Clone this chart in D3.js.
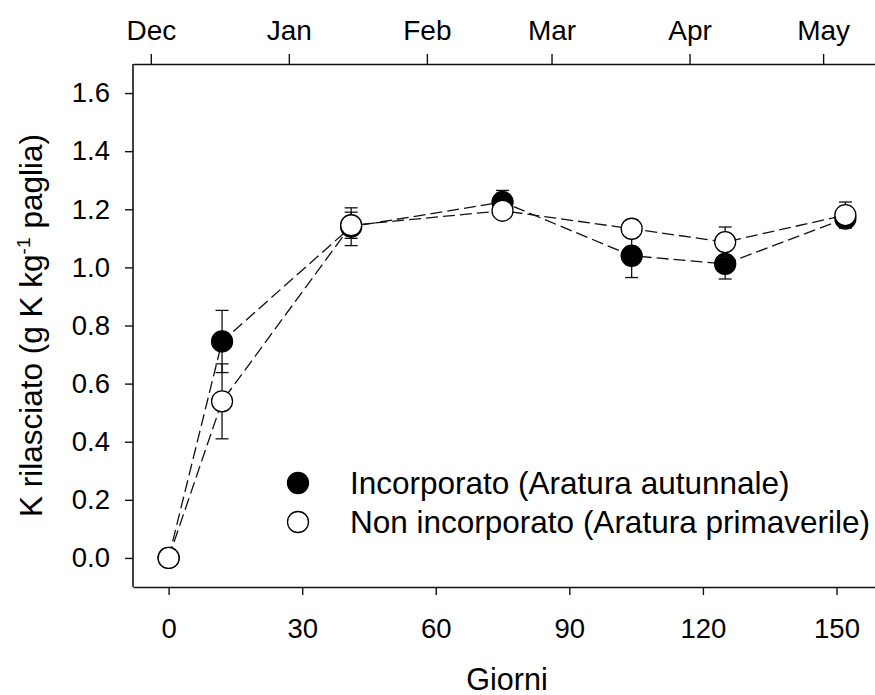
<!DOCTYPE html>
<html>
<head>
<meta charset="utf-8">
<script src="https://cdn.jsdelivr.net/npm/d3@7"></script>
<style>
  html, body { margin: 0; padding: 0; background: #fff; }
  svg { display: block; font-family: "Liberation Sans", Arial, sans-serif; }
</style>
</head>
<body>
<svg id="chart" width="875" height="695"></svg>
<script>
// ---- Data ----
const days = [0, 12, 41, 75, 104, 125, 152];
const incorporato = [0, 0.745, 1.14, 1.225, 1.04, 1.012, 1.168];
const incorporatoErr = [0.005, 0.107, 0.065, 0.04, 0.075, 0.052, 0.02];
const nonIncorporato = [0, 0.539, 1.145, 1.195, 1.133, 1.087, 1.18];
const nonIncorporatoErr = [0.005, 0.129, 0.045, 0.015, 0.03, 0.052, 0.045];

const xTicks = [0, 30, 60, 90, 120, 150];
const yTicks = [0, 0.2, 0.4, 0.6, 0.8, 1.0, 1.2, 1.4, 1.6];
const monthDays = [-4, 27, 58, 86, 117, 147];
const monthLabels = ["Dec", "Jan", "Feb", "Mar", "Apr", "May"];

const seriesNames = ["Incorporato (Aratura autunnale)", "Non incorporato (Aratura primaverile)"];
const xTitle = "Giorni";

// ---- Chart ----
const svg = d3.select("#chart");
const x = d3.scaleLinear().domain([-8, 160]).range([133, 881]);
const y = d3.scaleLinear().domain([-0.1, 1.7]).range([587, 64]);

const series = [
  { name: seriesNames[0], values: incorporato, err: incorporatoErr, fill: "#000" },
  { name: seriesNames[1], values: nonIncorporato, err: nonIncorporatoErr, fill: "#fff" }
];

// Axes
const gB = svg.append("g").attr("transform", "translate(0,587)")
  .call(d3.axisBottom(x).tickValues(xTicks).tickSize(8).tickSizeOuter(0).tickPadding(23).tickFormat(d3.format("d")));
const gL = svg.append("g").attr("transform", "translate(133,0)")
  .call(d3.axisLeft(y).tickValues(yTicks).tickSize(8).tickSizeOuter(0).tickPadding(15).tickFormat(d3.format(".1f")));
const gT = svg.append("g").attr("transform", "translate(0,64)")
  .call(d3.axisTop(x).tickValues(monthDays).tickSize(10).tickSizeOuter(0).tickPadding(14).tickFormat((d, i) => monthLabels[i]));

[gB, gL, gT].forEach(g => {
  g.select(".domain").attr("stroke", "#111").attr("stroke-width", 1.6);
  g.selectAll(".tick line").attr("stroke", "#111").attr("stroke-width", 1.4);
  g.selectAll(".tick text").attr("fill", "#000").attr("font-size", 27.5)
    .attr("font-family", "'Liberation Sans', Arial, sans-serif");
});
gT.selectAll(".tick text").attr("font-size", 28);
gL.select(".domain").attr("d", `M0,${y(-0.1)}V${y(1.7)}`);

// Axis titles
svg.append("text")
  .attr("x", (x.range()[0] + x.range()[1]) / 2)
  .attr("y", 690)
  .attr("text-anchor", "middle")
  .attr("font-size", 30.5)
  .text(xTitle);

const yt = svg.append("text")
  .attr("transform", `translate(42,${(y.range()[0] + y.range()[1]) / 2}) rotate(-90)`)
  .attr("text-anchor", "middle")
  .attr("font-size", 31.5);
yt.append("tspan").text("K rilasciato (g K kg");
yt.append("tspan").attr("font-size", 19).attr("dy", -12).text("-1");
yt.append("tspan").attr("dy", 12).attr("dx", 9).text("paglia)");

// Lines
const line = d3.line().x((d, i) => x(days[i])).y(d => y(d));
series.forEach(s => {
  svg.append("path")
    .attr("d", line(s.values))
    .attr("fill", "none")
    .attr("stroke", "#111")
    .attr("stroke-width", 1.3)
    .attr("stroke-dasharray", "12,5");
});

// Error bars and markers
const capW = 6.5;
series.forEach(s => {
  const g = svg.append("g");
  s.values.forEach((v, i) => {
    const cx = x(days[i]);
    const y1 = y(v + s.err[i]), y0 = y(v - s.err[i]);
    g.append("line").attr("x1", cx).attr("x2", cx).attr("y1", y1).attr("y2", y0)
      .attr("stroke", "#111").attr("stroke-width", 1.3);
    [y1, y0].forEach(yy => g.append("line")
      .attr("x1", cx - capW).attr("x2", cx + capW).attr("y1", yy).attr("y2", yy)
      .attr("stroke", "#111").attr("stroke-width", 1.3));
  });
  g.selectAll("circle").data(s.values).join("circle")
    .attr("cx", (d, i) => x(days[i]))
    .attr("cy", d => y(d))
    .attr("r", 10.5)
    .attr("fill", s.fill)
    .attr("stroke", "#000")
    .attr("stroke-width", 1.3);
});

// Legend
const legend = svg.append("g");
series.forEach((s, i) => {
  const ly = 483 + i * 39;
  legend.append("circle").attr("cx", 298).attr("cy", ly).attr("r", 10.5)
    .attr("fill", s.fill).attr("stroke", "#000").attr("stroke-width", 1.3);
  legend.append("text").attr("x", 350).attr("y", ly + 10.5)
    .attr("font-size", 31.5).attr("fill", "#000").text(s.name);
});
</script>
</body>
</html>
